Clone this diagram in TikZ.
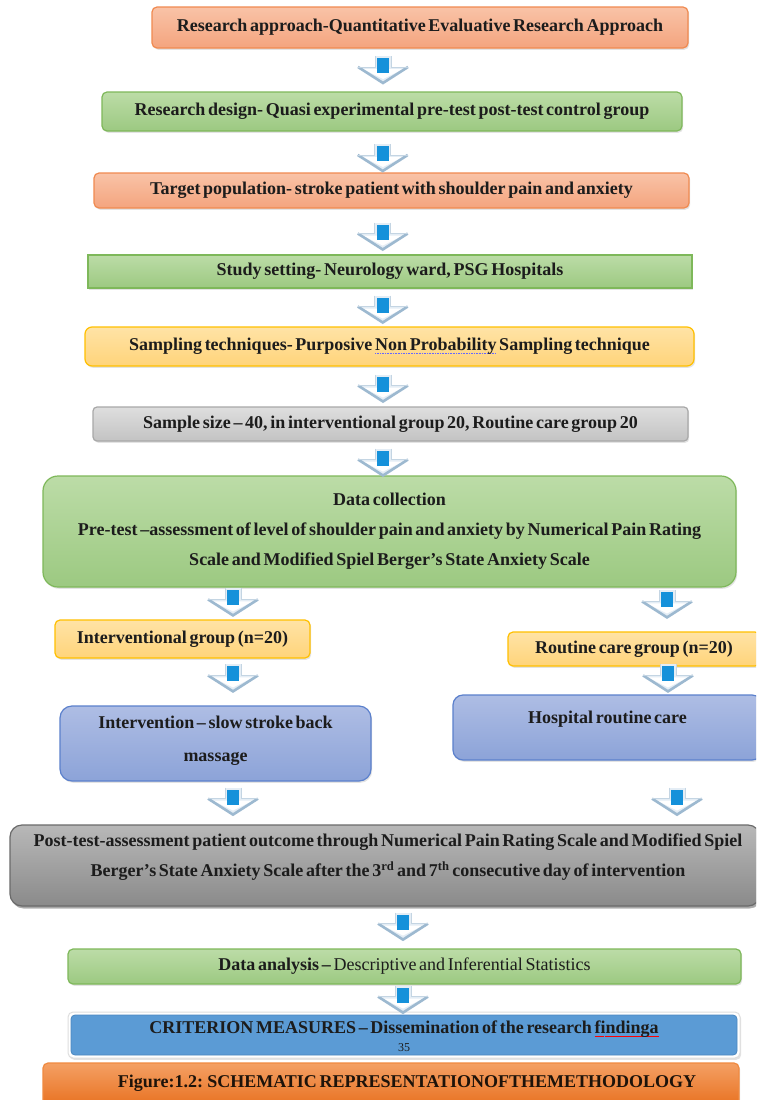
\documentclass[tikz,border=0pt]{standalone}
\usepackage{fontspec}
\setmainfont[WordSpace=0.6, BoldFont={Liberation Serif Bold}]{Liberation Serif}
\usetikzlibrary{calc,shadows}
\definecolor{salT}{HTML}{F9C3A7}\definecolor{salB}{HTML}{F4A47E}\definecolor{salD}{HTML}{F08A50}
\definecolor{grnT}{HTML}{BCDCA7}\definecolor{grnB}{HTML}{9CC981}\definecolor{grnD}{HTML}{7EB85A}
\definecolor{yelT}{HTML}{FFE3A6}\definecolor{yelB}{HTML}{FFD47A}\definecolor{yelD}{HTML}{FFC000}
\definecolor{gryT}{HTML}{DEDEDE}\definecolor{gryB}{HTML}{C3C3C3}\definecolor{gryD}{HTML}{A8A8A8}
\definecolor{lavT}{HTML}{AEBDE4}\definecolor{lavB}{HTML}{8CA3D8}\definecolor{lavD}{HTML}{5B80CC}
\definecolor{ptT}{HTML}{B8B8B8}\definecolor{ptB}{HTML}{8A8A8A}\definecolor{ptD}{HTML}{6A6A6A}
\definecolor{crit}{HTML}{5B9BD5}\definecolor{critD}{HTML}{4A87C0}
\definecolor{figT}{HTML}{F4A064}\definecolor{figB}{HTML}{E8701F}\definecolor{figD}{HTML}{F08A40}
\definecolor{arPale}{HTML}{E4EDF5}\definecolor{arEdge}{HTML}{9DB9D0}\definecolor{arBlue}{HTML}{1591DA}
\definecolor{ink}{HTML}{1C1C1C}
\newsavebox{\ulbox}
\newcommand{\bluedots}[1]{\leavevmode\sbox{\ulbox}{#1}\rlap{\textcolor{blue!60}{\hbox to \wd\ulbox{\xleaders\hbox{\rule[-3pt]{1pt}{0.6pt}\hspace{0.6pt}}\hfill}}}\usebox{\ulbox}}
\newcommand{\redwave}[1]{\leavevmode\sbox{\ulbox}{#1}\rlap{\textcolor{red}{\hbox to \wd\ulbox{\xleaders\hbox{\rule[-3.6pt]{1.2pt}{0.7pt}\rule[-3pt]{1.2pt}{0.7pt}}\hfill}}}\usebox{\ulbox}}
\tikzset{
  box/.style={draw, line width=1.2pt, rounded corners=5pt, align=center, inner sep=0pt,
    text=ink, font=\bfseries\fontsize{18}{30}\selectfont,
    drop shadow={opacity=0.22, shadow xshift=1.2pt, shadow yshift=-1.8pt}},
  txt/.style={align=center, inner sep=0pt, text=ink, font=\bfseries\fontsize{18}{30}\selectfont},
  salmon/.style={top color=salT, bottom color=salB, draw=salD},
  green/.style={top color=grnT, bottom color=grnB, draw=grnD},
  yellow/.style={top color=yelT, bottom color=yelB, draw=yelD},
  grey/.style={top color=gryT, bottom color=gryB, draw=gryD},
  lav/.style={top color=lavT, bottom color=lavB, draw=lavD},
  darrow/.pic={
    \fill[arPale] (-8,-14) rectangle (8,0);
    \fill[arPale] (-25,-3) -- (25,-3) -- (0,13) -- cycle;
    \fill[white] (-20,-1) -- (20,-1) -- (0,9) -- cycle;
    \draw[arEdge, line width=2.6pt, line join=miter] (-25,-3) -- (0,13) -- (25,-3);
    \draw[arEdge!60, line width=0.6pt] (-8,-14) -- (-8,-3) -- (-25,-3);
    \draw[arEdge!60, line width=0.6pt] (8,-14) -- (8,-3) -- (25,-3);
    \fill[arBlue] (-6,-12) rectangle (6,3);
  }
}
\begin{document}
\begin{tikzpicture}[x=1pt,y=-1pt]
\useasboundingbox (0,0) rectangle (756,1100);
\fill[white] (0,0) rectangle (756,1100);
\clip (0,0) rectangle (756,1100);

\node[box, salmon, minimum width=536pt, minimum height=41pt] (ra) at (420,27.5)
  {Research approach-Quantitative Evaluative Research Approach};
\node[box, green, minimum width=580pt, minimum height=39pt] (rd) at (392,111.5)
  {Research design- Quasi experimental pre-test post-test control group};
\node[box, salmon, minimum width=595pt, minimum height=35pt] (tp) at (391.5,190.5)
  {Target population- stroke patient with shoulder pain and anxiety};
\node[box, green, rounded corners=0pt, minimum width=604pt, minimum height=33pt] (ss) at (390,271.5)
  {Study setting- Neurology ward, PSG Hospitals};
\node[box, yellow, rounded corners=7pt, minimum width=609pt, minimum height=39pt] (st) at (389.5,346.5)
  {Sampling techniques- Purposive \bluedots{Non Probability} Sampling technique};
\node[box, grey, rounded corners=4pt, minimum width=595pt, minimum height=34pt] (sz) at (390.5,424)
  {Sample size – 40, in interventional group 20, Routine care group 20};
\node[box, green, rounded corners=15pt, minimum width=693pt, minimum height=111pt] (dc) at (389.5,531.5)
  {Data collection\\Pre-test –assessment of level of shoulder pain and anxiety by Numerical Pain Rating\\Scale and Modified Spiel Berger’s State Anxiety Scale};
\node[box, yellow, minimum width=255pt, minimum height=38pt] (ig) at (182.5,639)
  {Interventional group (n=20)};
\node[box, yellow, minimum width=252pt, minimum height=34pt] (rg) at (634,649)
  {Routine care group (n=20)};
\node[box, lav, rounded corners=12pt, minimum width=311pt, minimum height=75pt] (iv) at (215.5,743.5) {};
\node[txt] (ivt) at ($(iv.center)+(0,-3)$) {Intervention – slow stroke back\\[3pt]massage};
\node[box, lav, rounded corners=10pt, minimum width=309pt, minimum height=65pt] (hr) at (607.5,727.5) {};
\node[txt] (hrt) at ($(hr.center)+(0,-8)$) {Hospital routine care};
\node[box, top color=ptT, bottom color=ptB, draw=ptD, rounded corners=12pt, minimum width=750pt, minimum height=81pt,
  drop shadow={opacity=0.6, shadow xshift=1.5pt, shadow yshift=-2.5pt}] (pt) at (385,865.5) {};
\node[txt] (ptt) at ($(pt.center)+(3,-8)$)
  {Post-test-assessment patient outcome through Numerical Pain Rating Scale and Modified Spiel\\Berger’s State Anxiety Scale after the 3\textsuperscript{rd} and 7\textsuperscript{th} consecutive day of intervention};
\node[box, green, minimum width=673pt, minimum height=35pt] (da) at (404.5,966.5)
  {Data analysis – {\mdseries Descriptive and Inferential Statistics}};
\node[box, fill=white, draw=gryT, line width=1pt, minimum width=672pt, minimum height=46pt] (cmo) at (404,1035) {};
\node[draw=critD, fill=crit, rounded corners=4pt, line width=0.8pt, minimum width=666pt, minimum height=40pt, inner sep=0pt] (cm) at (cmo.center) {};
\node[txt] (cmt) at ($(cm.center)+(0,-6)$) {CRITERION MEASURES – Dissemination of the research \redwave{findinga}};
\node[txt, font=\fontsize{12}{12}\selectfont] (cmn) at ($(cm.center)+(0,13)$) {35};
\node[box, top color=figT, bottom color=figB, draw=figD, minimum width=696pt, minimum height=44pt] (fg) at (391,1085) {};
\node[txt, text=black!85!brown] (fgt) at (407,1083) {Figure:1.2: SCHEMATIC REPRESENTATIONOFTHEMETHODOLOGY};

% block arrows between boxes
\pic at ($(ra.south)!.5!(rd.north)+(-23,0)$) {darrow};
\pic at ($(rd.south)!.5!(tp.north)+(-9,6)$) {darrow};
\pic at ($(tp.south)!.5!(ss.north)+(-8,5)$) {darrow};
\pic at ($(ss.south)!.5!(st.north)+(-7,2)$) {darrow};
\pic at ($(st.south)!.5!(sz.north)+(-7,2)$) {darrow};
\pic at ($(sz.south)!.5!(dc.north)+(-7,4)$) {darrow};
\pic at ($(ig.north)+(50.5,-17)$) {darrow};
\pic at ($(rg.north)+(33,-27)$) {darrow};
\pic at ($(iv.north)+(17.5,-27)$) {darrow};
\pic at ($(hr.north)+(60.5,-16)$) {darrow};
\pic at ($(iv.south)+(17.5,20)$) {darrow};
\pic at ($(hr.south)+(69.5,41)$) {darrow};
\pic at ($(pt.south)+(18,20)$) {darrow};
\pic at ($(da.south)+(-1.5,15)$) {darrow};
\end{tikzpicture}
\end{document}
